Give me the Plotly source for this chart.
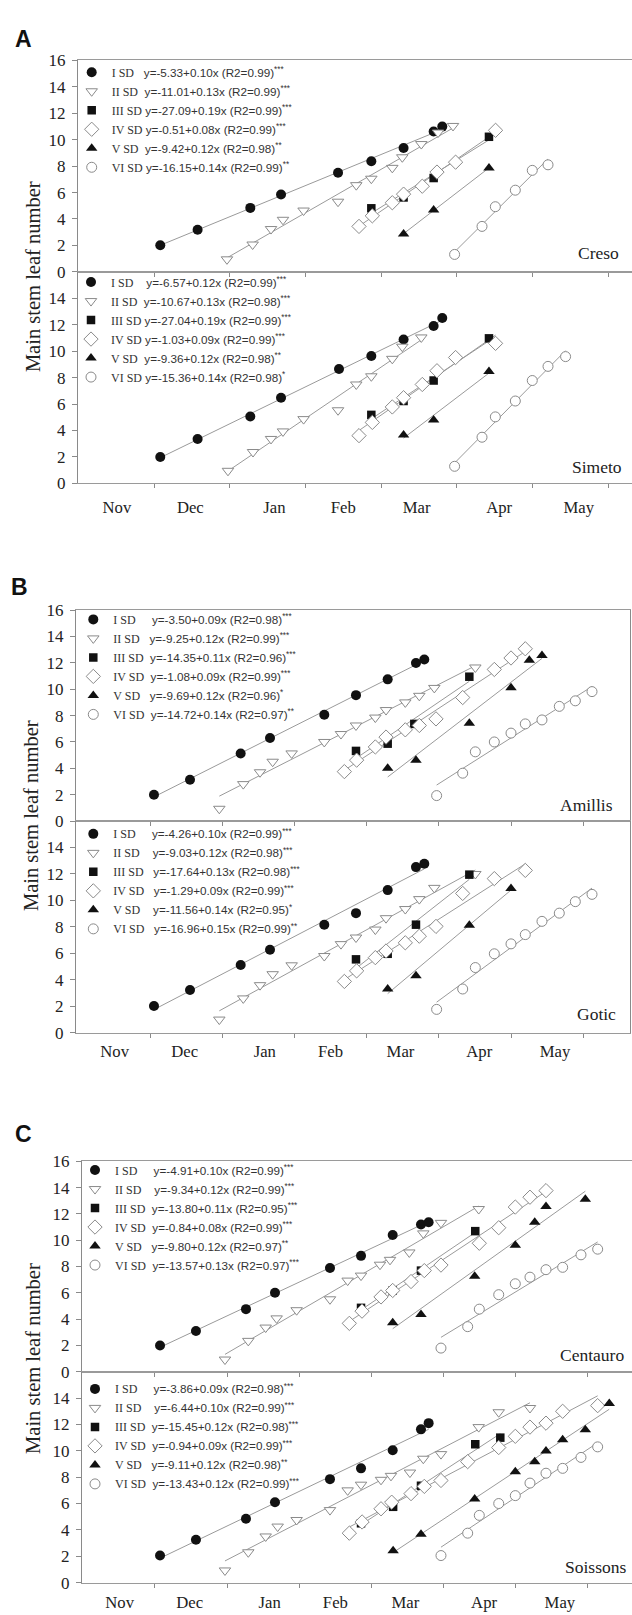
import numpy as np
import plotly.graph_objects as go

# ---------------------------------------------------------------- data
SOWINGS = ["I SD", "II SD", "III SD", "IV SD", "V SD", "VI SD"]
MONTHS = ["Nov", "Dec", "Jan", "Feb", "Mar", "Apr", "May"]
CULTIVARS = ["Creso", "Simeto", "Amillis", "Gotic", "Centauro", "Soissons"]
PANEL_LETTERS = ["A", "B", "C"]
Y_TITLE = "Main stem leaf number"

# x = months elapsed since 1 November, y = main stem leaf number
creso_x = [
    [1.083, 1.576, 2.272, 2.678, 3.431, 3.871, 4.297, 4.694, 4.808],
    [1.964, 2.303, 2.546, 2.704, 2.976, 3.431, 3.672, 3.871, 4.148, 4.280, 4.531, 4.752, 4.950],
    [3.871, 4.297, 4.694, 5.425],
    [3.708, 3.884, 4.148, 4.297, 4.544, 4.738, 4.984, 5.512],
    [4.297, 4.694, 5.425],
    [4.971, 5.333, 5.509, 5.773, 5.997, 6.205],
]
creso_y = [
    [2.02, 3.19, 4.84, 5.85, 7.50, 8.37, 9.37, 10.62, 10.99],
    [0.95, 2.07, 3.24, 3.94, 4.64, 5.31, 6.56, 7.05, 7.87, 8.67, 9.67, 10.54, 11.04],
    [4.81, 5.63, 7.10, 10.22],
    [3.44, 4.24, 5.23, 5.88, 6.48, 7.55, 8.30, 10.71],
    [2.86, 4.69, 7.85],
    [1.32, 3.44, 4.93, 6.18, 7.68, 8.10],
]
creso_eq = ["y=-5.33+0.10x (R2=0.99)***", "y=-11.01+0.13x (R2=0.99)***",
            "y=-27.09+0.19x (R2=0.99)***", "y=-0.51+0.08x (R2=0.99)***",
            "y=-9.42+0.12x (R2=0.98)**", "y=-16.15+0.14x (R2=0.99)**"]

simeto_x = [
    [1.083, 1.576, 2.272, 2.678, 3.444, 3.871, 4.297, 4.694, 4.808],
    [1.977, 2.308, 2.546, 2.704, 2.976, 3.431, 3.672, 3.871, 4.148, 4.280, 4.531],
    [3.871, 4.297, 4.694, 5.425],
    [3.708, 3.884, 4.148, 4.297, 4.544, 4.738, 4.984, 5.512],
    [4.297, 4.694, 5.425],
    [4.971, 5.333, 5.509, 5.773, 5.997, 6.205, 6.437],
]
simeto_y = [
    [1.99, 3.36, 5.06, 6.48, 8.65, 9.64, 10.89, 11.91, 12.51],
    [0.95, 2.37, 3.36, 3.93, 4.86, 5.53, 7.48, 8.10, 9.42, 10.34, 11.04],
    [5.18, 6.23, 7.78, 10.97],
    [3.61, 4.61, 5.78, 6.48, 7.48, 8.52, 9.52, 10.59],
    [3.66, 4.79, 8.47],
    [1.29, 3.49, 5.03, 6.23, 7.78, 8.85, 9.59],
]
simeto_eq = ["y=-6.57+0.12x (R2=0.99)***", "y=-10.67+0.13x (R2=0.98)***",
             "y=-27.04+0.19x (R2=0.99)***", "y=-1.03+0.09x (R2=0.99)***",
             "y=-9.36+0.12x (R2=0.98)**", "y=-15.36+0.14x (R2=0.98)*"]

amillis_x = [
    [1.055, 1.554, 2.256, 2.662, 3.414, 3.853, 4.292, 4.684, 4.799],
    [1.960, 2.292, 2.524, 2.699, 2.962, 3.414, 3.645, 3.853, 4.121, 4.269, 4.536, 4.730, 4.938, 5.506],
    [3.853, 4.292, 4.661, 5.423],
    [3.692, 3.862, 4.121, 4.269, 4.536, 4.730, 4.961, 5.331, 5.769, 6.000, 6.198],
    [4.292, 4.684, 5.423, 6.000, 6.254, 6.429],
    [4.970, 5.331, 5.506, 5.769, 6.000, 6.198, 6.429, 6.669, 6.891, 7.122],
]
amillis_y = [
    [2.00, 3.13, 5.13, 6.30, 8.07, 9.55, 10.75, 11.99, 12.25],
    [0.93, 2.80, 3.70, 4.50, 5.13, 6.00, 6.60, 7.25, 7.85, 8.42, 9.00, 9.50, 10.10, 11.65],
    [5.32, 5.87, 7.37, 10.95],
    [3.75, 4.62, 5.62, 6.37, 6.92, 7.25, 7.75, 9.37, 11.50, 12.37, 13.07],
    [4.00, 4.62, 7.42, 10.12, 12.20, 12.55],
    [1.93, 3.63, 5.25, 6.00, 6.67, 7.37, 7.67, 8.70, 9.12, 9.82],
]
amillis_eq = ["y=-3.50+0.09x (R2=0.98)***", "y=-9.25+0.12x (R2=0.99)***",
              "y=-14.35+0.11x (R2=0.96)***", "y=-1.08+0.09x (R2=0.99)***",
              "y=-9.69+0.12x (R2=0.96)*", "y=-14.72+0.14x (R2=0.97)**"]

gotic_x = [
    [1.055, 1.554, 2.256, 2.662, 3.414, 3.853, 4.292, 4.684, 4.799],
    [1.960, 2.292, 2.524, 2.699, 2.962, 3.414, 3.645, 3.853, 4.121, 4.269, 4.536, 4.730, 4.938, 5.506],
    [3.853, 4.292, 4.684, 5.423],
    [3.692, 3.862, 4.121, 4.269, 4.536, 4.730, 4.961, 5.331, 5.769, 6.198],
    [4.292, 4.684, 5.423, 6.000],
    [4.970, 5.331, 5.506, 5.769, 6.000, 6.198, 6.429, 6.669, 6.891, 7.122],
]
gotic_y = [
    [2.02, 3.24, 5.13, 6.28, 8.17, 9.04, 10.78, 12.52, 12.77],
    [1.00, 2.60, 3.60, 4.43, 5.10, 5.80, 6.70, 7.20, 7.80, 8.66, 9.35, 10.10, 10.95, 12.00],
    [5.55, 5.97, 8.17, 11.95],
    [3.88, 4.68, 5.68, 6.18, 6.80, 7.30, 8.04, 10.53, 11.65, 12.27],
    [3.31, 4.31, 8.12, 10.90],
    [1.77, 3.31, 4.93, 5.97, 6.72, 7.42, 8.42, 9.04, 9.91, 10.46],
]
gotic_eq = ["y=-4.26+0.10x (R2=0.99)***", "y=-9.03+0.12x (R2=0.98)***",
            "y=-17.64+0.13x (R2=0.98)***", "y=-1.29+0.09x (R2=0.99)***",
            "y=-11.56+0.14x (R2=0.95)*", "y=-16.96+0.15x (R2=0.99)**"]

centauro_x = [
    [1.070, 1.568, 2.261, 2.663, 3.425, 3.855, 4.294, 4.686, 4.792],
    [1.970, 2.293, 2.534, 2.686, 2.963, 3.425, 3.670, 3.855, 4.118, 4.257, 4.524, 4.718, 4.963, 5.486],
    [3.855, 4.294, 4.686, 5.438],
    [3.693, 3.869, 4.132, 4.294, 4.548, 4.732, 4.963, 5.494, 5.763, 5.993, 6.196, 6.418],
    [4.294, 4.686, 5.430, 5.993, 6.262, 6.418, 6.963],
    [4.963, 5.333, 5.494, 5.763, 5.993, 6.196, 6.418, 6.649, 6.903, 7.134],
]
centauro_y = [
    [2.00, 3.10, 4.76, 6.01, 7.89, 8.81, 10.39, 11.19, 11.37],
    [0.93, 2.35, 3.36, 4.06, 4.68, 5.51, 6.93, 7.31, 8.14, 8.51, 9.07, 10.52, 11.32, 12.37],
    [4.86, 6.18, 7.69, 10.69],
    [3.68, 4.61, 5.69, 6.18, 6.86, 7.69, 8.11, 9.77, 10.95, 12.52, 13.27, 13.77],
    [3.73, 4.36, 7.26, 9.62, 11.37, 12.57, 13.12],
    [1.80, 3.43, 4.76, 5.86, 6.69, 7.19, 7.76, 7.94, 8.89, 9.32],
]
centauro_eq = ["y=-4.91+0.10x (R2=0.99)***", "y=-9.34+0.12x (R2=0.99)***",
               "y=-13.80+0.11x (R2=0.95)***", "y=-0.84+0.08x (R2=0.99)***",
               "y=-9.80+0.12x (R2=0.97)**", "y=-13.57+0.13x (R2=0.97)***"]

soissons_x = [
    [1.070, 1.568, 2.261, 2.663, 3.425, 3.855, 4.294, 4.686, 4.792],
    [1.970, 2.293, 2.534, 2.700, 2.963, 3.425, 3.670, 3.855, 4.132, 4.270, 4.533, 4.718, 4.963, 5.486, 5.763, 6.196],
    [3.855, 4.300, 4.686, 5.438, 5.785],
    [3.693, 3.870, 4.132, 4.280, 4.548, 4.732, 4.963, 5.333, 5.763, 5.993, 6.196, 6.418, 6.649, 7.134],
    [4.300, 4.686, 5.430, 5.993, 6.262, 6.418, 6.649, 6.963, 7.295],
    [4.963, 5.333, 5.494, 5.763, 5.993, 6.196, 6.418, 6.649, 6.903, 7.134],
]
soissons_y = [
    [2.05, 3.25, 4.85, 6.10, 7.85, 8.67, 10.05, 11.63, 12.10],
    [0.92, 2.30, 3.50, 4.25, 4.75, 5.50, 7.00, 7.43, 7.80, 8.10, 8.35, 9.40, 9.75, 11.80, 12.93, 13.25],
    [4.50, 5.75, 7.35, 10.50, 11.00],
    [3.75, 4.60, 5.60, 6.10, 6.75, 7.30, 7.75, 9.18, 10.25, 11.10, 11.80, 12.10, 13.00, 13.43],
    [2.42, 3.67, 6.35, 8.42, 9.17, 9.98, 10.85, 11.60, 13.60],
    [2.05, 3.75, 5.10, 6.00, 6.60, 7.55, 8.30, 8.67, 9.50, 10.30],
]
soissons_eq = ["y=-3.86+0.09x (R2=0.98)***", "y=-6.44+0.10x (R2=0.99)***",
               "y=-15.45+0.12x (R2=0.98)***", "y=-0.94+0.09x (R2=0.99)***",
               "y=-9.11+0.12x (R2=0.98)**", "y=-13.43+0.12x (R2=0.99)***"]

SERIES = [
    (creso_x, creso_y, creso_eq),
    (simeto_x, simeto_y, simeto_eq),
    (amillis_x, amillis_y, amillis_eq),
    (gotic_x, gotic_y, gotic_eq),
    (centauro_x, centauro_y, centauro_eq),
    (soissons_x, soissons_y, soissons_eq),
]

# ---------------------------------------------------------------- layout constants (pixels)
W, H = 632, 1615
# per panel: px of 1 Nov, px per month, plot left, plot right, right frame?, (top, middle, bottom) px
PANEL_GEOM = [
    (78.3, 75.7, 78, 632, False, (52, 266, 480)),
    (77.8, 72.2, 76, 630, True, (608.3, 821.7, 1036)),
    (82.8, 72.17, 82, 632, False, (1166, 1379, 1592.3)),
]
MONTH_POS = [0.51, 1.48, 2.59, 3.50, 4.47, 5.56, 6.61]
LETTER_POS = [(23.5, 30), (19, 585), (23, 1138)]
YTITLE_POS = [(33.3, 271), (31.7, 816), (33, 1366)]
XLAB_STANDOFF = [9, 3, 4]
# per subplot: legend symbol x, middle of legend rows y, equation offset from label start
LEGEND_GEOM = [(91.7, 111.35, 32), (91.0, 323.65, 34), (93.3, 665, 37),
               (93.3, 882, 40), (95, 1222.2, 38), (95, 1443.65, 38)]
CULT_LABEL_POS = [(621, 247), (624, 463), (615, 805), (618, 1017), (626, 1362), (628, 1577)]
EQ_FONT = 11.7

MARKERS = [
    dict(symbol="circle", size=10, color="#111111", line=dict(width=0)),
    dict(symbol="triangle-down", size=10, color="white", line=dict(color="#8a8a8a", width=1)),
    dict(symbol="square", size=8.5, color="#111111", line=dict(width=0)),
    dict(symbol="diamond", size=11, color="white", line=dict(color="#8a8a8a", width=1)),
    dict(symbol="triangle-up", size=10, color="#111111", line=dict(width=0)),
    dict(symbol="circle", size=10, color="white", line=dict(color="#8a8a8a", width=1)),
]
SERIF = "Liberation Serif"
SANS = "Liberation Sans"
SERIF_W = {"I": .333, "V": .722, "S": .556, "D": .722, " ": .25}


def px_x(p):
    return p / W


def px_y(p):
    return 1 - p / H


def legend_text(label, eq, offset):
    w = sum(SERIF_W[c] for c in label) * 12
    nb = 0.278 * EQ_FONT
    n = max(1, int(round((offset - w) / nb)))
    base = eq.rstrip("*")
    stars = eq[len(base):]
    return (f'<span style="font-family:{SERIF};font-size:12px">{label}</span>' + "\u00a0" * n
            + base + f"<sup>{stars}</sup>")


fig = go.Figure()
layout = dict(
    width=W, height=H, autosize=False,
    margin=dict(l=0, r=0, t=0, b=0),
    paper_bgcolor="white", plot_bgcolor="white",
    showlegend=True,
)
annotations = []

for k, (xs, ys, eqs) in enumerate(SERIES):
    p = k // 2
    is_top = (k % 2 == 0)
    x0, ppm, left, right, rframe, (ytop, ymid, ybot) = PANEL_GEOM[p]
    xa = "x" if k == 0 else f"x{k + 1}"
    ya = "y" if k == 0 else f"y{k + 1}"
    leg = "legend" if k == 0 else f"legend{k + 1}"

    # regression lines
    for i in range(6):
        x = np.array(xs[i])
        y = np.array(ys[i])
        b, a = np.polyfit(x, y, 1)
        xl = np.array([x.min(), x.max()])
        fig.add_trace(go.Scatter(x=xl, y=a + b * xl, mode="lines", xaxis=xa, yaxis=ya,
                                 line=dict(color="#9a9a9a", width=1), showlegend=False,
                                 hoverinfo="skip"))
    # points
    sx, my, off = LEGEND_GEOM[k]
    for i in range(6):
        fig.add_trace(go.Scatter(x=xs[i], y=ys[i], mode="markers", xaxis=xa, yaxis=ya,
                                 marker=MARKERS[i], name=legend_text(SOWINGS[i], eqs[i], off),
                                 legend=leg, cliponaxis=False))

    # axes
    if is_top:
        dom_y = [px_y(ymid), px_y(ytop)]
    else:
        dom_y = [px_y(ybot), px_y(ymid)]
    xkey = "xaxis" if k == 0 else f"xaxis{k + 1}"
    ykey = "yaxis" if k == 0 else f"yaxis{k + 1}"
    layout[xkey] = dict(
        domain=[px_x(left), min(1.0, px_x(right))],
        range=[(left - x0) / ppm, (min(right, W) - x0) / ppm],
        anchor=ya, showgrid=False, zeroline=False,
        showline=True, linecolor="#9a9a9a", linewidth=1, mirror=True,
        tickmode="array", tickvals=MONTH_POS, ticktext=MONTHS, ticks="",
        showticklabels=not is_top,
        tickfont=dict(family=SERIF, size=16.7, color="#222222"),
        ticklabelstandoff=XLAB_STANDOFF[p],
        minor=dict(tickmode="array", tickvals=[1, 2, 3, 4, 5, 6, 7], ticks="outside",
                   ticklen=4, tickcolor="#8a8a8a", tickwidth=1, showgrid=False),
    )
    layout[ykey] = dict(
        domain=dom_y, range=[0, 16], anchor=xa,
        showgrid=False, zeroline=False,
        showline=True, linecolor="#8a8a8a", linewidth=1, mirror=rframe,
        tickmode="array", tickvals=list(range(0, 17, 2)) if is_top else list(range(0, 15, 2)),
        ticks="outside", ticklen=5, tickcolor="#8a8a8a",
        tickfont=dict(family=SERIF, size=17, color="#222222"),
        ticklabelstandoff=3,
    )
    # legend (6 rows of 19 px, first row centre is 14.5 px below legend top)
    layout[leg] = dict(
        x=px_x(sx - 20), xanchor="left", xref="paper",
        y=px_y(my - 2.5 * 19 - 14.5), yanchor="top", yref="paper",
        bgcolor="rgba(0,0,0,0)", borderwidth=0,
        font=dict(family=SANS, size=EQ_FONT, color="#333333"),
        itemclick=False, itemdoubleclick=False,
    )
    # cultivar label
    cx, cy = CULT_LABEL_POS[k]
    annotations.append(dict(text=CULTIVARS[k], x=px_x(cx), y=px_y(cy), xref="paper", yref="paper",
                            xanchor="right", yanchor="middle", showarrow=False,
                            font=dict(family=SERIF, size=17.5, color="#222222")))

for p in range(3):
    lx, ly = LETTER_POS[p]
    annotations.append(dict(text=f"<b>{PANEL_LETTERS[p]}</b>", x=px_x(lx), y=px_y(ly),
                            xref="paper", yref="paper", xanchor="center", yanchor="middle",
                            showarrow=False, font=dict(family=SANS, size=23, color="#111111")))
    tx, ty = YTITLE_POS[p]
    annotations.append(dict(text=Y_TITLE, x=px_x(tx), y=px_y(ty), xref="paper", yref="paper",
                            xanchor="center", yanchor="middle", textangle=-90, showarrow=False,
                            font=dict(family=SERIF, size=20.5, color="#222222")))

layout["annotations"] = annotations
fig.update_layout(**layout)
fig.write_html(
    "out.html",
    config={"responsive": False, "displayModeBar": False},
    post_script="document.body.style.margin='0';document.body.style.padding='0';"
                "document.documentElement.style.overflow='hidden';",
)
